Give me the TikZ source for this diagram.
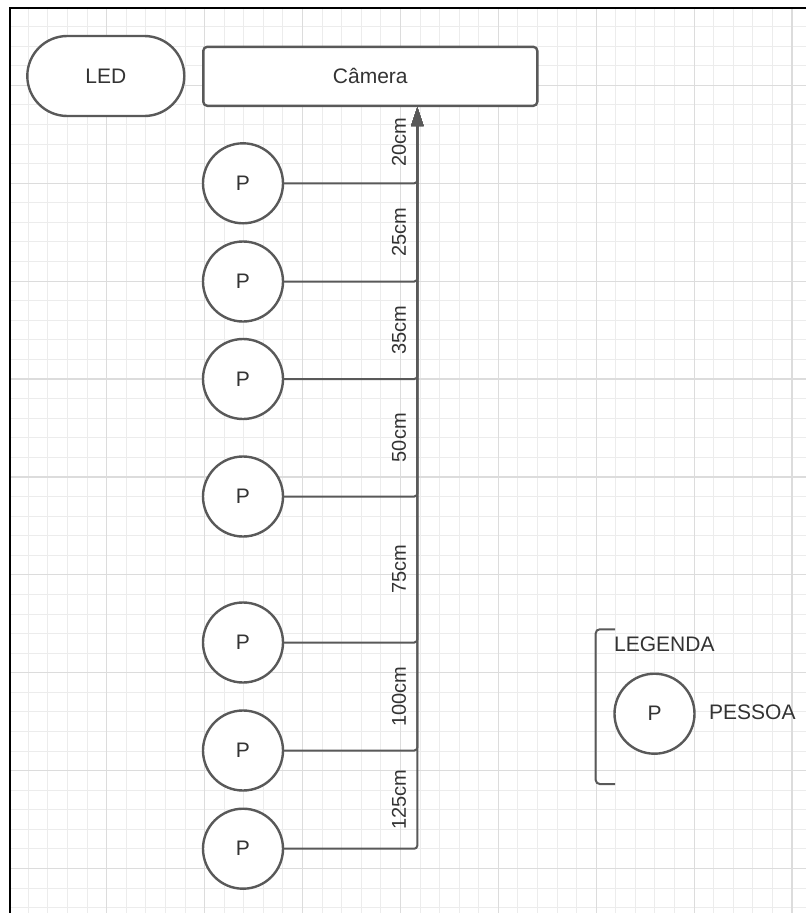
\documentclass[tikz,border=0pt]{standalone}
\usepackage{fontspec}
\setmainfont{Liberation Sans}
\usetikzlibrary{arrows.meta}

\definecolor{gridminor}{HTML}{ECECEC}
\definecolor{gridmajor}{HTML}{DCDCDC}
\definecolor{edge}{HTML}{595959}
\definecolor{ink}{HTML}{333333}

\begin{document}
\begin{tikzpicture}[x=1pt,y=-1pt,
  every node/.style={font=\fontsize{21}{25}\selectfont, text=ink},
  shapebase/.style={draw=edge, line width=2.4pt, fill=white},
  person/.style={shapebase, circle, minimum size=80pt, inner sep=0pt},
  ledbox/.style={shapebase, rectangle, rounded corners=40pt,
                 minimum width=157pt, minimum height=80pt, inner sep=0pt},
  cambox/.style={shapebase, rectangle, rounded corners=4pt,
                 minimum width=334pt, minimum height=59pt, inner sep=0pt},
  link/.style={draw=edge, line width=2pt, rounded corners=3pt,
               -{Triangle[length=19pt,width=12pt]}},
  dist/.style={rotate=90, inner sep=0pt, font=\fontsize{20}{24}\selectfont},
  legendline/.style={draw=edge, line width=2pt, rounded corners=4pt}
]
\useasboundingbox (0,0) rectangle (806,913);
\fill[white] (0,0) rectangle (806,913);

% background grid
\foreach \k in {0,...,40} {
  \pgfmathsetmacro{\gx}{28.4+19.58*\k}
  \ifdim\gx pt<806pt \draw[gridminor, line width=1pt] (\gx,9) -- (\gx,913); \fi
}
\foreach \k in {0,...,46} {
  \pgfmathsetmacro{\gy}{26.6+19.58*\k}
  \ifdim\gy pt<913pt \draw[gridminor, line width=1pt] (11,\gy) -- (806,\gy); \fi
}
\foreach \k in {0,...,7} {
  \pgfmathsetmacro{\gx}{106.7+97.9*\k}
  \draw[gridmajor, line width=1.2pt] (\gx,9) -- (\gx,913);
}
\foreach \k in {0,...,8} {
  \pgfmathsetmacro{\gy}{85.3+97.9*\k}
  \draw[gridmajor, line width=1.2pt] (11,\gy) -- (806,\gy);
}

% frame
\draw[black, line width=2.5pt] (806,8) -- (10,8) -- (10,913);

% devices
\node[ledbox] (led) at (105.8,76) {LED};
\node[cambox] (cam) at (370.3,76.3) {Câmera};

% people placed at increasing distances
\node[person] (p1) at (243,183.3) {P};
\node[person] (p2) at (243,281.5) {P};
\node[person] (p3) at (243,379) {P};
\node[person] (p4) at (243,496.5) {P};
\node[person] (p5) at (243,642.5) {P};
\node[person] (p6) at (243,750.5) {P};
\node[person] (p7) at (243,848.7) {P};

% common vertical trunk position
\coordinate (trunk) at (417.3,0);

\foreach \i in {7,6,5,4,3,2,1} {
  \draw[link] (p\i.east) -| (cam.south -| trunk);
}

% distance labels
\node[dist] (d1) at (399,142) {20cm};
\node[dist] (d2) at (399,232.4) {25cm};
\node[dist] (d3) at (399,330) {35cm};
\node[dist] (d4) at (399,437.7) {50cm};
\node[dist] (d5) at (399,569.5) {75cm};
\node[dist] (d6) at (399,696.5) {100cm};
\node[dist] (d7) at (399,799.6) {125cm};

% legend
\coordinate (lgtop) at (615,629.3);
\coordinate (lgbot) at (615,784);
\draw[legendline] (lgtop) -| (595.7,706) |- (lgbot);
\node[anchor=west, inner sep=0pt] (lgtitle) at (614,644) {LEGENDA};
\node[person] (lgp) at (654.5,713.7) {P};
\node[anchor=west, inner sep=0pt] (lgtext) at (709,712) {PESSOA};
\end{tikzpicture}
\end{document}
